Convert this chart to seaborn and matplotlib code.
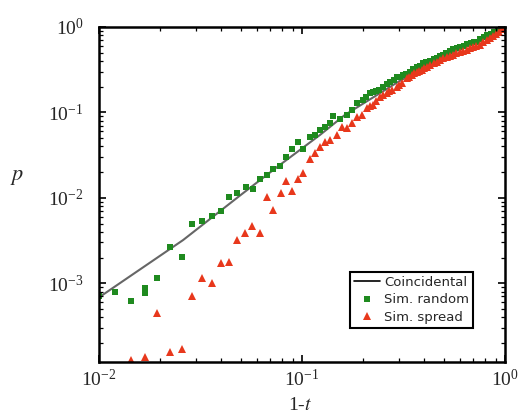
import seaborn as sns
import matplotlib.pyplot as plt

# Coincidental curve
line_x = [0.01, 0.026, 0.05, 0.078, 0.123, 0.163, 0.3, 0.5, 0.7, 1.0]
line_y = [6.8e-4, 3.2e-3, 0.0108, 0.0243, 0.0546, 0.0935, 0.23, 0.44, 0.66, 1.0]

# Sim. random (green squares)
rand_x = [0.01, 0.012, 0.0144, 0.0169, 0.0169, 0.0193, 0.0224, 0.0256, 0.0287, 0.0322,
          0.036, 0.040, 0.0437, 0.0478, 0.053, 0.0574, 0.0621, 0.0673, 0.072, 0.078,
          0.0834, 0.0893, 0.0955, 0.101, 0.1094, 0.1159, 0.1228, 0.1298, 0.1374, 0.1422,
          0.1539, 0.1667, 0.1763, 0.1866, 0.1996, 0.2161, 0.2316, 0.2506, 0.2711, 0.2936,
          0.3145, 0.3404, 0.3687, 0.3946, 0.4274, 0.4628, 0.495, 0.5358, 0.5802, 0.6283,
          0.6801, 0.7283, 0.7885, 0.8536, 0.9242, 1.0,
          0.206, 0.224, 0.241, 0.262, 0.283, 0.304, 0.327, 0.354, 0.381, 0.41,
          0.445, 0.478, 0.515, 0.557, 0.604, 0.654, 0.705, 0.758, 0.82, 0.888, 0.96]
rand_y = [7.1e-4, 7.96e-4, 6.24e-4, 8.86e-4, 7.74e-4, 1.16e-3, 2.67e-3, 2.04e-3, 4.97e-3, 5.38e-3,
          6.15e-3, 7.05e-3, 0.0103, 0.0114, 0.0135, 0.0127, 0.0167, 0.0186, 0.0218, 0.0237,
          0.0302, 0.0374, 0.0452, 0.0374, 0.0517, 0.0546, 0.0624, 0.0677, 0.0753, 0.091,
          0.0839, 0.0935, 0.107, 0.1292, 0.14, 0.1691, 0.1784, 0.1987, 0.2274, 0.2602,
          0.2747, 0.2977, 0.3405, 0.3793, 0.3999, 0.4336, 0.4708, 0.524, 0.5676, 0.5998,
          0.6501, 0.6683, 0.7638, 0.8282, 0.8978, 1.0,
          0.152, 0.171, 0.185, 0.214, 0.238, 0.262, 0.283, 0.318, 0.352, 0.385,
          0.418, 0.452, 0.498, 0.548, 0.585, 0.628, 0.662, 0.716, 0.795, 0.862, 0.94]

# Sim. spread (red triangles)
spread_x = [0.0144, 0.0169, 0.0193, 0.0224, 0.0256, 0.0287, 0.0322, 0.036, 0.040, 0.0437,
            0.0478, 0.0523, 0.0568, 0.0621, 0.0673, 0.072, 0.0789, 0.0834, 0.0893, 0.0955,
            0.101, 0.1094, 0.1159, 0.1228, 0.1298, 0.1374, 0.1486, 0.1573, 0.1667, 0.1763,
            0.1866, 0.1977, 0.2091, 0.2239, 0.2423, 0.2624, 0.2775, 0.2936, 0.3112, 0.3289,
            0.3483, 0.3687, 0.3899, 0.413, 0.4467, 0.4786, 0.5177, 0.5546, 0.6, 0.6501,
            0.695, 0.753, 0.8152, 0.8733, 0.934, 1.0,
            0.216, 0.233, 0.252, 0.27, 0.302, 0.338, 0.358, 0.379, 0.401, 0.43,
            0.462, 0.498, 0.536, 0.577, 0.625, 0.672, 0.724, 0.784, 0.844, 0.903, 0.967]
spread_y = [1.27e-4, 1.38e-4, 4.52e-4, 1.58e-4, 1.71e-4, 7.14e-4, 1.16e-3, 1.01e-3, 1.74e-3, 1.78e-3,
            3.23e-3, 3.9e-3, 4.7e-3, 3.9e-3, 0.0103, 7.24e-3, 0.0114, 0.0158, 0.0121, 0.0167,
            0.0196, 0.0286, 0.0336, 0.0395, 0.0452, 0.0477, 0.0546, 0.0677, 0.066, 0.0753,
            0.0886, 0.0935, 0.1129, 0.1225, 0.1518, 0.1691, 0.1833, 0.1987, 0.2213, 0.2533,
            0.2747, 0.2977, 0.3141, 0.3405, 0.3793, 0.4112, 0.4458, 0.4708, 0.5104, 0.5383,
            0.5836, 0.6155, 0.7047, 0.785, 0.8752, 1.0,
            0.118, 0.136, 0.16, 0.176, 0.21, 0.262, 0.286, 0.306, 0.327, 0.358,
            0.394, 0.428, 0.458, 0.49, 0.524, 0.561, 0.598, 0.66, 0.745, 0.83, 0.935]

sns.set_style("ticks")
plt.rcParams['font.family'] = ['Liberation Serif', 'DejaVu Serif']
plt.rcParams['mathtext.fontset'] = 'stix'

fig = plt.figure(figsize=(5.2, 4.15), dpi=100)
ax = fig.add_axes([0.19, 0.128, 0.781, 0.807])
ax.set_xscale("log")
ax.set_yscale("log")

sns.lineplot(x=line_x, y=line_y, color="#666666", linewidth=1.5, ax=ax, label="Coincidental")
# markers only (no connecting line)
sns.lineplot(x=rand_x, y=rand_y, estimator=None, sort=False, linestyle="", marker="s",
             markersize=4.2, markeredgewidth=0, color="#1f8a1f", ax=ax, label="Sim. random")
sns.lineplot(x=spread_x, y=spread_y, estimator=None, sort=False, linestyle="", marker="^",
             markersize=6, markeredgewidth=0, color="#e8381c", ax=ax, label="Sim. spread")

ax.set_xlim(0.01, 1)
ax.set_ylim(1.2e-4, 1)

ax.set_xlabel(r"1-$t$", fontsize=14)
ax.set_ylabel(r"$p$", fontsize=16, rotation=0, va="center")
ax.xaxis.set_label_coords(0.495, -0.105)
ax.yaxis.set_label_coords(-0.2, 0.55)

leg = ax.legend(loc="lower right", bbox_to_anchor=(0.921, 0.101), borderaxespad=0,
                frameon=True, fancybox=False, framealpha=1, edgecolor="black",
                prop={"family": "DejaVu Sans", "size": 9.5}, handlelength=2.0,
                handletextpad=0.3, labelspacing=0.35, borderpad=0.3, numpoints=1)
leg.get_frame().set_linewidth(1.5)
leg.get_lines()[0].set_color("black")
leg.get_lines()[0].set_linewidth(1.2)

for sp in ax.spines.values():
    sp.set_linewidth(1.8)
    sp.set_color("black")
ax.set_axisbelow(False)
ax.tick_params(which="both", direction="in", top=True, right=True, color="black")
ax.tick_params(which="major", length=5, width=1.2, labelsize=14)
ax.tick_params(which="minor", length=3, width=0.9)
ax.tick_params(axis="y", pad=11)
ax.tick_params(axis="x", pad=5)

fig.savefig("out.png", dpi=100)
